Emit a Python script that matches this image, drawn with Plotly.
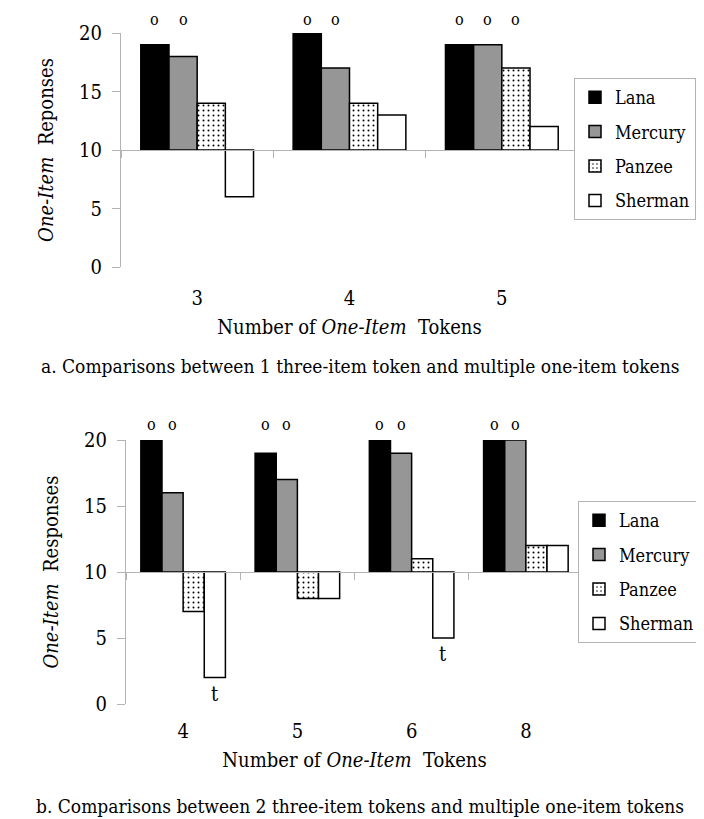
import plotly.graph_objects as go

# ---------------- data ----------------
names = ["Lana", "Mercury", "Panzee", "Sherman"]

cats_a = ["3", "4", "5"]
lana_a = [19, 20, 19]
mercury_a = [18, 17, 19]
panzee_a = [14, 14, 17]
sherman_a = [6, 13, 12]
o_marks_a = [["Lana", "Mercury"], ["Lana", "Mercury"], ["Lana", "Mercury", "Panzee"]]
t_marks_a = [[], [], []]

cats_b = ["4", "5", "6", "8"]
lana_b = [20, 19, 20, 20]
mercury_b = [16, 17, 19, 20]
panzee_b = [7, 8, 11, 12]
sherman_b = [2, 8, 5, 12]
o_marks_b = [["Lana", "Mercury"], ["Lana", "Mercury"], ["Lana", "Mercury"], ["Lana", "Mercury"]]
t_marks_b = [["Sherman"], [], ["Sherman"], []]

baseline = 10
yticks = [0, 5, 10, 15, 20]

xtitle = "Number of <i>One-Item</i>&nbsp; Tokens"
ytitle_a = "<i>One-Item</i>&nbsp; Reponses"
ytitle_b = "<i>One-Item</i>&nbsp; Responses"
caption_a = "a. Comparisons between 1 three-item token and multiple one-item tokens"
caption_b = "b. Comparisons between 2 three-item tokens and multiple one-item tokens"

# ---------------- style ----------------
FONT = "DejaVu Serif Condensed"
W, H = 704, 819
BARGAP = 0.26
styles = {
    "Lana": dict(color="#000000"),
    "Mercury": dict(color="#969696"),
    "Panzee": dict(color="#ffffff",
                   pattern=dict(shape=".", fgcolor="#000000", bgcolor="#ffffff",
                                size=5, solidity=0.12, fillmode="replace")),
    "Sherman": dict(color="#ffffff"),
}
AXC = "#b4b4b4"

# plot-area geometry (pixels)
dom_a = dict(x=(113, 570), y=(25, 259))
dom_b = dict(x=(118, 575), y=(432, 696))


def px_x(p):
    return p / W


def px_y(p):
    return 1 - p / H


fig = go.Figure()

series_a = dict(zip(names, [lana_a, mercury_a, panzee_a, sherman_a]))
series_b = dict(zip(names, [lana_b, mercury_b, panzee_b, sherman_b]))

for name in names:
    vals = series_a[name]
    fig.add_trace(go.Bar(
        x=cats_a, y=[v - baseline for v in vals], base=baseline, name=name,
        xaxis="x", yaxis="y", legend="legend", legendgroup="a" + name,
        marker=dict(line=dict(color="#000000", width=1.5), **styles[name]),
        customdata=vals, hovertemplate=name + ": %{customdata}<extra></extra>",
    ))
for name in names:
    vals = series_b[name]
    fig.add_trace(go.Bar(
        x=cats_b, y=[v - baseline for v in vals], base=baseline, name=name,
        xaxis="x2", yaxis="y2", legend="legend2", legendgroup="b" + name,
        marker=dict(line=dict(color="#000000", width=1.5), **styles[name]),
        customdata=vals, hovertemplate=name + ": %{customdata}<extra></extra>",
    ))


def bar_center(ci, name):
    w = (1 - BARGAP) / len(names)
    i = names.index(name)
    return ci - (1 - BARGAP) / 2 + w * (i + 0.5)


annotations = []


def add_marks(cats, series, o_marks, t_marks, xref, yref, o_shift):
    for ci, _ in enumerate(cats):
        for name in o_marks[ci]:
            annotations.append(dict(x=bar_center(ci, name), y=yticks[-1], xref=xref, yref=yref,
                                    text="o", showarrow=False, yanchor="bottom", yshift=o_shift,
                                    borderpad=0, font=dict(family=FONT, size=16, color="#000")))
        for name in t_marks[ci]:
            annotations.append(dict(x=bar_center(ci, name), y=series[name][ci], xref=xref, yref=yref,
                                    text="t", showarrow=False, yanchor="top", yshift=-2,
                                    font=dict(family=FONT, size=20, color="#000")))


add_marks(cats_a, series_a, o_marks_a, t_marks_a, "x", "y", 3)
add_marks(cats_b, series_b, o_marks_b, t_marks_b, "x2", "y2", 5)

annotations.append(dict(x=0.5, y=px_y(358), xref="paper", yref="paper", text=caption_a,
                        yanchor="middle", showarrow=False,
                        font=dict(family=FONT, size=19, color="#000")))
annotations.append(dict(x=0.5, y=px_y(798), xref="paper", yref="paper", text=caption_b,
                        yanchor="middle", showarrow=False,
                        font=dict(family=FONT, size=19, color="#000")))

ya0, ya1 = px_y(dom_a["y"][1]), px_y(dom_a["y"][0])
yb0, yb1 = px_y(dom_b["y"][1]), px_y(dom_b["y"][0])
pos_a = ya0 + (baseline - yticks[0]) / (yticks[-1] - yticks[0]) * (ya1 - ya0)
pos_b = yb0 + (baseline - yticks[0]) / (yticks[-1] - yticks[0]) * (yb1 - yb0)

tickfont = dict(family=FONT, size=20, color="#000")
titlefont = dict(family=FONT, size=20, color="#000")


def xaxis(dom, pos, standoff_lab, title):
    return dict(domain=[px_x(dom["x"][0]), px_x(dom["x"][1])], type="category",
                anchor="free", position=pos, side="bottom",
                showline=True, linecolor=AXC, linewidth=1,
                ticks="outside", tickson="boundaries", ticklen=7, tickcolor=AXC,
                ticklabelstandoff=standoff_lab, tickfont=tickfont,
                showgrid=False, zeroline=False, automargin=False, fixedrange=True,
                title=dict(text=title, font=titlefont, standoff=10))


def yaxis(y0, y1, title, anchor):
    return dict(domain=[y0, y1], range=[yticks[0], yticks[-1]], tickvals=yticks,
                showline=True, linecolor=AXC, linewidth=1, ticks="outside", ticklen=8,
                tickcolor=AXC, tickfont=tickfont, showgrid=False, zeroline=False,
                ticklabelstandoff=6,
                automargin=False, anchor=anchor, fixedrange=True,
                title=dict(text=title, font=titlefont, standoff=20))


fig.update_layout(
    width=W, height=H,
    margin=dict(l=0, r=0, t=0, b=0),
    paper_bgcolor="#ffffff", plot_bgcolor="#ffffff",
    barmode="group", bargap=BARGAP, bargroupgap=0,
    font=dict(family=FONT, color="#000"),
    xaxis=xaxis(dom_a, pos_a, 130, xtitle),
    yaxis=yaxis(ya0, ya1, ytitle_a, "x"),
    xaxis2=xaxis(dom_b, pos_b, 141, xtitle),
    yaxis2=yaxis(yb0, yb1, ytitle_b, "x2"),
    legend=dict(x=px_x(566), y=px_y(70), xanchor="left", yanchor="top",
                bordercolor=AXC, borderwidth=1, bgcolor="#fff",
                font=dict(family=FONT, size=18, color="#000"), tracegroupgap=8),
    legend2=dict(x=px_x(570), y=px_y(493), xanchor="left", yanchor="top",
                 bordercolor=AXC, borderwidth=1, bgcolor="#fff",
                 font=dict(family=FONT, size=18, color="#000"), tracegroupgap=8),
    annotations=annotations,
    showlegend=True,
)

fig.write_html("out.html")
